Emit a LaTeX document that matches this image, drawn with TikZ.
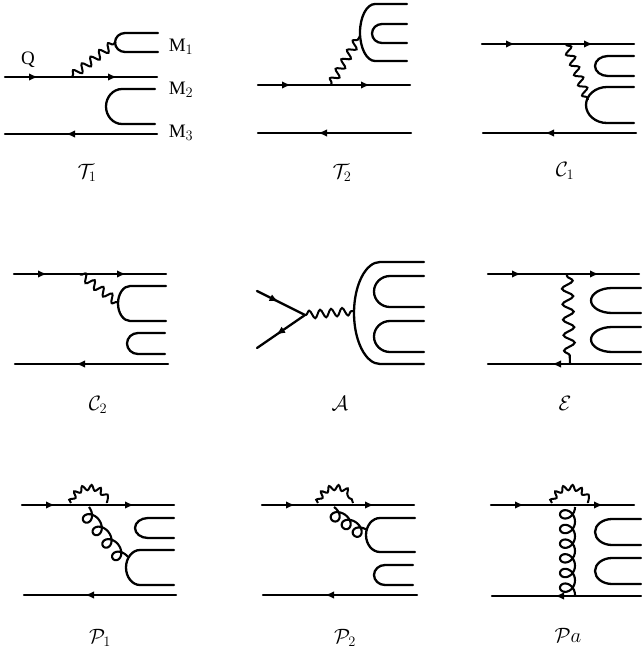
\documentclass[tikz,border=0pt]{standalone}
\usepackage{fontspec}
\setmainfont{Liberation Serif}
\usetikzlibrary{calc,arrows.meta,decorations.markings,decorations.pathmorphing}
\tikzset{
  x=1pt,y=-1pt,
  fermion/.style={line width=2.3pt,line cap=round},
  arrs/.style={postaction={decorate,decoration={markings,mark=at position #1pt with {\arrow{Latex[length=9pt,width=7.5pt]}}}}},
  boson/.style={line width=2pt,decorate,decoration={snake,segment length=11pt,amplitude=4pt,pre length=1pt,post length=1pt}},
  bosonlong/.style={line width=2.1pt,decorate,decoration={snake,segment length=15.5pt,amplitude=5.5pt,pre length=1pt,post length=1pt}},
  loopph/.style={line width=2pt,decorate,decoration={snake,segment length=8.5pt,amplitude=2.6pt}},
  gluon/.style={line width=2.1pt,line join=round},
  meson/.style={font=\fontsize{19}{21}\selectfont,inner sep=0pt,anchor=base},
  caption/.style={font=\fontsize{22}{24}\selectfont,inner sep=0pt,anchor=base}
}
% straight quark line: name, x1, y, x2, arrow styles
\newcommand\qline[5]{%
  \coordinate (#1s) at (#2,#3);\coordinate (#1e) at (#4,#3);
  \draw[fermion,#5] (#1s) -- (#1e);}
% U-shaped meson line: free end x, start of bend x, leftmost x, top y, bottom y
\newcommand\uline[5]{%
  \pgfmathsetmacro\uh{(#5-#4)/2}\pgfmathsetmacro\um{(#5+#4)/2}%
  \pgfmathsetmacro\ucx{#2-0.55*(#2-#3)}%
  \pgfmathsetmacro\ua{\um-0.55*\uh}\pgfmathsetmacro\ub{\um+0.55*\uh}%
  \draw[fermion] (#1,#4) -- (#2,#4) .. controls (\ucx,#4) and (#3,\ua) .. (#3,\um)
     .. controls (#3,\ub) and (\ucx,#5) .. (#2,#5) -- (#1,#5);}
% gluon coil from named point to named point: from, to, loops, depth of loops
\newcommand\gluonline[4]{%
  \path let \p1=($(#2)-(#1)$),\n1={atan2(\y1,\x1)},\n2={veclen(\x1,\y1)} in
    \pgfextra{\pgfmathsetmacro\gl{\n2}\pgfmathsetmacro\ga{\n1}\xdef\gglen{\gl}\xdef\ggang{\ga}};
  \pgfmathtruncatemacro\gsam{24*#3+1}%
  \draw[gluon,shift={(#1)},rotate=\ggang] plot[smooth,variable=\t,domain=180:{180+360*#3},samples=\gsam]
    ({\gglen*((\t-180)/(360*#3))-7.5*sin(\t)},{#4*(1+cos(\t))});}
\begin{document}
\begin{tikzpicture}
\useasboundingbox (0,0) rectangle (641,654);
% T1
\qline{ta}{5}{77}{157}{arrs=33,arrs=112}
\qline{tb}{157}{134}{5}{arrs=91}
\uline{158}{125}{115}{33}{52}
\uline{155}{122}{106}{89}{124}
\coordinate (tv) at (72,76);\coordinate (tw) at (116,42);
\draw[boson] (tv) -- (tw);
\node[meson] (q) at (28,64) {Q};
\node[meson] (m1) at (181,51) {M$_1$};
\node[meson] (m2) at (181,94) {M$_2$};
\node[meson] (m3) at (181,137) {M$_3$};
\node[caption] (c1) at (87,178) {$\mathcal{T}_1$};
% T2
\qline{ua}{258}{85}{410}{arrs=33,arrs=112}
\qline{ub}{411}{133}{258}{arrs=93}
\uline{407}{375}{360}{4}{61}
\uline{407}{382}{372}{24}{43}
\coordinate (uv) at (331,84);\coordinate (uw) at (360,36);
\draw[boson] (uv) -- (uw);
\node[caption] (c2) at (342,178) {$\mathcal{T}_2$};
% C1
\qline{va}{482}{44}{634}{arrs=33,arrs=111}
\qline{vb}{636}{133}{483}{arrs=91}
\uline{634}{608}{595}{56}{76}
\uline{634}{607}{586}{87}{123}
\coordinate (vv) at (566,44);\coordinate (vw) at (588,100);
\draw[boson] (vv) -- (vw);
\node[caption] (c3) at (565,176) {$\mathcal{C}_1$};
% C2
\qline{wa}{14}{274}{166}{arrs=33,arrs=112}
\qline{wb}{168}{364}{15}{arrs=92}
\uline{166}{130}{118}{286}{321}
\uline{165}{138}{127}{333}{354}
\coordinate (wv) at (80,274);\coordinate (ww) at (118,303);
\draw[boson] (wv) -- (ww);
\node[caption] (c4) at (98,410) {$\mathcal{C}_2$};
% A
\coordinate (aa) at (257,291);\coordinate (ab) at (257,348);\coordinate (ac) at (305,315);\coordinate (ad) at (354,311);
\draw[fermion,arrs=24] (aa) -- (ac);
\draw[fermion,arrs=35] (ac) -- (ab);
\draw[boson] (ac) -- (ad);
\uline{424}{380}{354}{262}{364}
\uline{424}{390}{374}{276}{307}
\uline{424}{390}{374}{321}{352}
\node[caption] (c5) at (340,410) {$\mathcal{A}$};
% E
\qline{ea}{488}{274}{639}{arrs=33,arrs=111}
\qline{eb}{641}{364}{488}{arrs=89}
\uline{641}{612}{591}{288}{313}
\uline{641}{612}{591}{327}{352}
\coordinate (ev) at (567,275);\coordinate (ew) at (570,364);
\draw[bosonlong] (ev) -- (ew);
\node[caption] (c6) at (565,410) {$\mathcal{E}$};
% P1
\qline{pa}{22}{505}{174}{arrs=33,arrs=112}
\qline{pb}{176}{595}{24}{arrs=91}
\uline{174}{148}{135}{518}{538}
\uline{174}{140}{126}{550}{585}
\coordinate (pv) at (71,503);\coordinate (pw) at (107,503);\coordinate (px) at (89,507);\coordinate (py) at (128,557);
\draw[loopph] (pv) .. controls (76,485) and (102,485) .. (pw);
\gluonline{px}{py}{4}{6.5}
\node[caption] (c7) at (100,643) {$\mathcal{P}_1$};
% P2
\qline{ra}{262}{505}{414}{arrs=33,arrs=112}
\qline{rb}{417}{595}{263}{arrs=92}
\uline{415}{380}{366}{518}{552}
\uline{413}{385}{374}{565}{585}
\coordinate (rv) at (318,503);\coordinate (rw) at (353,503);\coordinate (rx) at (334,507);\coordinate (ry) at (367,530);
\draw[loopph] (rv) .. controls (323,485) and (348,485) .. (rw);
\gluonline{rx}{ry}{3}{6}
\node[caption] (c8) at (345,643) {$\mathcal{P}_2$};
% Pa
\qline{sa}{491}{505}{634}{arrs=33,arrs=112}
\qline{sb}{641}{596}{492}{arrs=86}
\uline{641}{612}{595}{519}{545}
\uline{641}{612}{595}{558}{584}
\coordinate (sv) at (552,503);\coordinate (sw) at (588,503);\coordinate (sx) at (575,507);\coordinate (sy) at (575,595);
\draw[loopph] (sv) .. controls (557,485) and (583,485) .. (sw);
\gluonline{sx}{sy}{6}{7.5}
\node[caption] (c9) at (568,642) {$\mathcal{P}a$};
\end{tikzpicture}
\end{document}
